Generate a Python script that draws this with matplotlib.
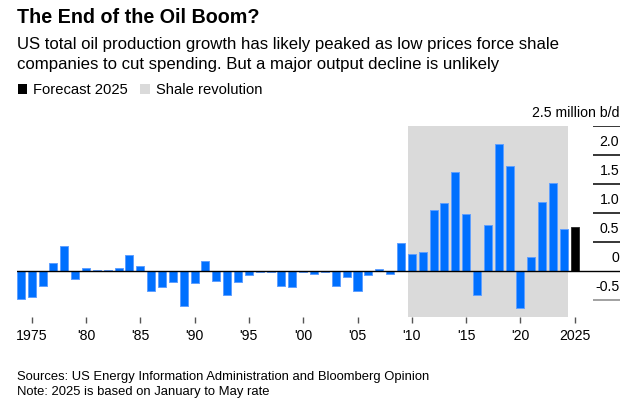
import matplotlib
matplotlib.use("Agg")
import matplotlib.pyplot as plt
from matplotlib.patches import Rectangle
import matplotlib.transforms as mtransforms

plt.rcParams['font.family'] = ['Liberation Sans', 'DejaVu Sans']

# ---- data (million b/d, annual change in US total oil production) ----
years = list(range(1974, 2025))
growth = [-0.47, -0.44, -0.26, 0.15, 0.43, -0.14, 0.05, 0.03, 0.03, 0.06,
          0.28, 0.09, -0.34, -0.27, -0.18, -0.59, -0.21, 0.18, -0.16, -0.40,
          -0.18, -0.06, -0.02, -0.02, -0.25, -0.27, -0.01, -0.05, -0.02, -0.25,
          -0.10, -0.34, -0.07, 0.04, -0.05, 0.49, 0.30, 0.34, 1.05, 1.18,
          1.71, 0.99, -0.40, 0.79, 2.20, 1.82, -0.63, 0.25, 1.20, 1.52,
          0.73]
forecast_year = [2025]
forecast = [0.76]
shale_start, shale_end = 2010, 2024
xtick_years = [1975, 1980, 1985, 1990, 1995, 2000, 2005, 2010, 2015, 2020, 2025]
xtick_labels = ['1975', "'80", "'85", "'90", "'95", "'00", "'05", "'10", "'15", "'20", '2025']
ytick_vals = [2.5, 2.0, 1.5, 1.0, 0.5, 0, -0.5]
ytick_labels = ['2.5 million b/d', '2.0', '1.5', '1.0', '0.5', '0', '-0.5']

W, H = 633, 407
fig = plt.figure(figsize=(W / 100, H / 100), dpi=100)
fig.patch.set_facecolor('white')

def fx(px):
    return px / W

def fy(py):
    return 1 - py / H

left, right, top, bottom = 16.7, 620.0, 126.3, 317.3
ax = fig.add_axes([fx(left), fy(bottom), (right - left) / W, (bottom - top) / H])
ax.set_xlim(1973.62, 2029.17)
ax.set_ylim(-0.793, 2.5)
for s in ax.spines.values():
    s.set_visible(False)

bw = 0.74
ax.axvspan(shale_start - 0.375, shale_end + 0.375, color='#dadada', zorder=0, lw=0)
ax.bar(years, growth, width=bw, color='#0070ff', edgecolor='#5f9fff', linewidth=0.7, zorder=2)
ax.bar(forecast_year, forecast, width=bw, color='black', edgecolor='#333333', linewidth=0.7, zorder=2)

# zero line and right-hand grid segments
ax.axhline(0, color='black', lw=1.0, zorder=3)
gx0 = 2026.68
for v in ytick_vals:
    if v == 0:
        continue
    col = '#888888' if v < 0 else 'black'
    ax.hlines(v, gx0, 2029.17, color=col, lw=1.1, zorder=3)

off = mtransforms.offset_copy(ax.transData, fig=fig, x=0, y=9, units='dots')
for v, lab in zip(ytick_vals, ytick_labels):
    ax.text(2029.1, v, lab, transform=off, ha='right', va='baseline',
            fontsize=10.2, color='black')

ax.set_yticks([])
ax.set_xticks(xtick_years)
ax.set_xticklabels(xtick_labels, fontsize=10.2)
ax.tick_params(axis='x', length=4.0, width=1.0, color='#555555', pad=4.5,
               direction='out')

# ---- header ----
fig.text(fx(16.7), fy(22.7), 'The End of the Oil Boom?', fontsize=14.2,
         fontweight='bold', ha='left', va='baseline')
fig.text(fx(16.7), fy(49), 'US total oil production growth has likely peaked as low prices force shale',
         fontsize=12.1, ha='left', va='baseline')
fig.text(fx(16.7), fy(69.3), 'companies to cut spending. But a major output decline is unlikely',
         fontsize=12.1, ha='left', va='baseline')

# legend
fig.add_artist(Rectangle((fx(18), fy(94)), 9 / W, 10 / H, transform=fig.transFigure,
                         color='black', lw=0))
fig.text(fx(33), fy(94), 'Forecast 2025', fontsize=10.6, ha='left', va='baseline')
fig.add_artist(Rectangle((fx(140), fy(94)), 10 / W, 10 / H, transform=fig.transFigure,
                         color='#dadada', lw=0))
fig.text(fx(156), fy(94), 'Shale revolution', fontsize=10.6, ha='left', va='baseline')

# ---- footer ----
fig.text(fx(16.7), fy(380), 'Sources: US Energy Information Administration and Bloomberg Opinion',
         fontsize=9.4, ha='left', va='baseline')
fig.text(fx(16.7), fy(395), 'Note: 2025 is based on January to May rate',
         fontsize=9.4, ha='left', va='baseline')

fig.savefig('out.png', dpi=100, facecolor='white')
